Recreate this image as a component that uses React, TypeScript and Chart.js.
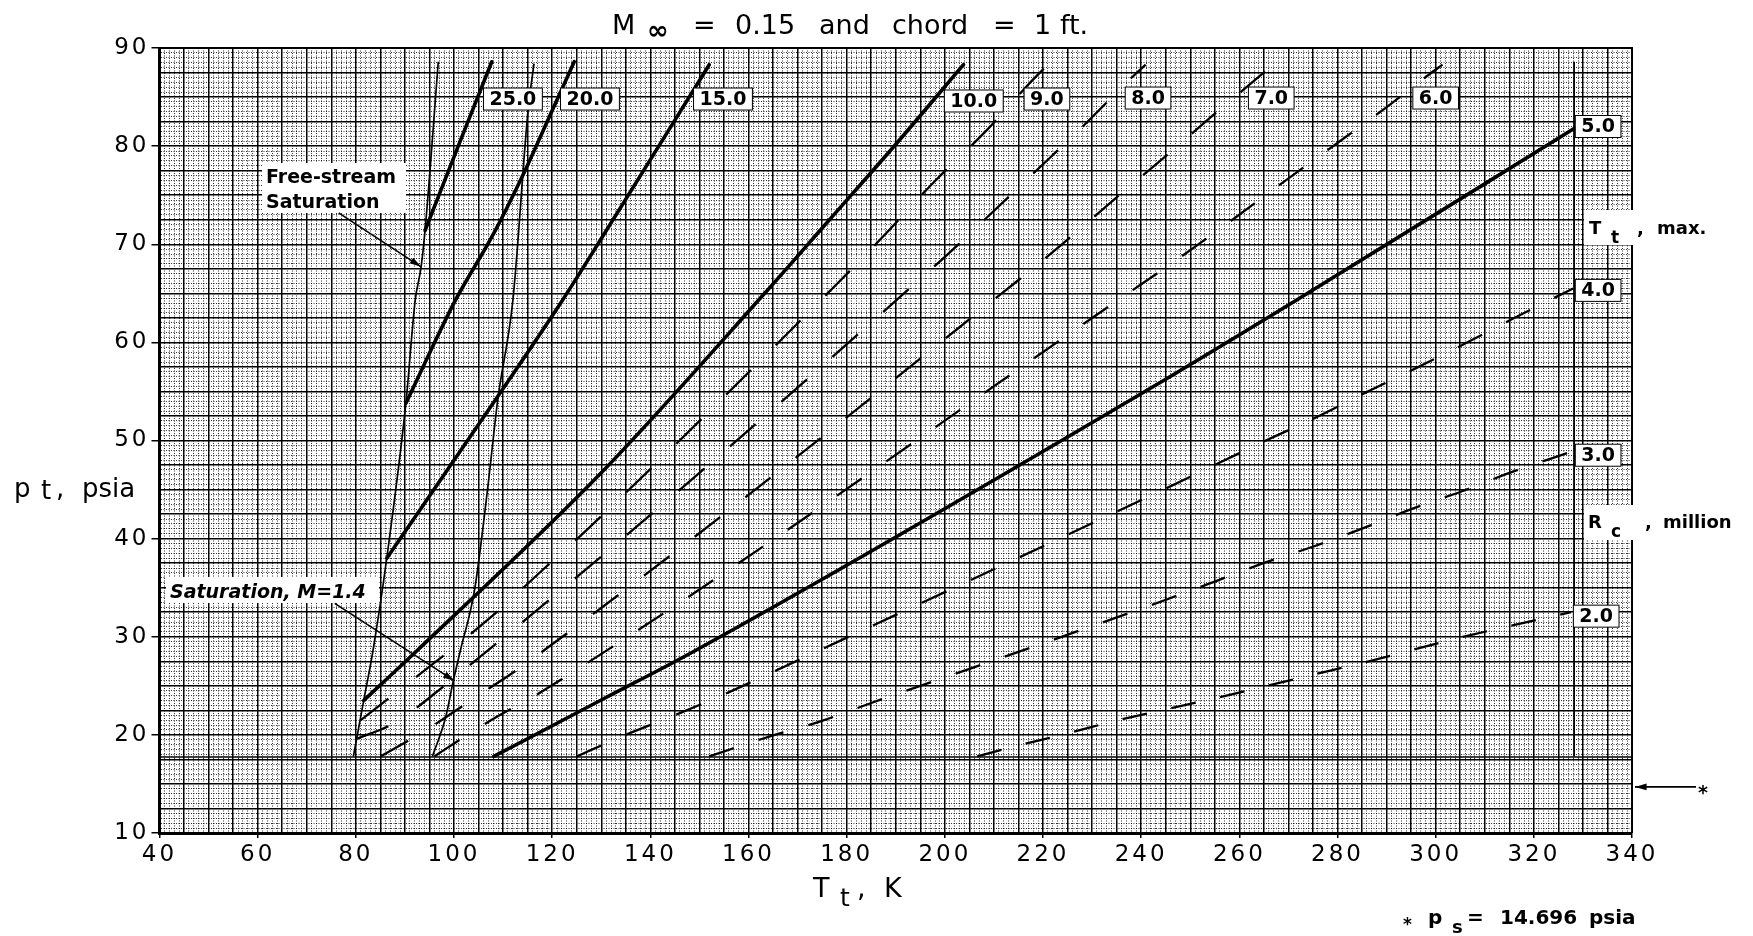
import React, { useEffect, useRef } from 'react';
import { Chart, registerables } from 'chart.js';

Chart.register(...registerables);

// ---------------- axis ranges and tick labels ----------------
const T_RANGE = [40, 340];
const P_RANGE = [10, 90];
const X_LABEL_STEP = 20;
const Y_LABEL_STEP = 10;

// ---------------- Rc curves (solid) : Tt in K, pt in psia ----------------
const rc25T = [94.1, 101.1, 107.7];
const rc25P = [71.4, 80.3, 88.6];

const rc20T = [90.2, 100.3, 108.1, 113.9, 119.8, 124.5];
const rc20P = [53.8, 64.3, 71.1, 76.9, 83.4, 88.6];

const rc15T = [86.3, 109.6, 122.1, 129.8, 152.0];
const rc15P = [38.0, 55.0, 64.3, 70.4, 88.3];

const rc10T = [81.6, 92.5, 129.8, 163.3, 176.5, 189.0, 203.8];
const rc10P = [23.5, 28.6, 46.6, 65.0, 72.5, 79.6, 88.3];

const rc5T = [108.1, 129.8, 149.2, 241.8, 271.6, 328.2];
const rc5P = [17.8, 23.5, 28.6, 55.3, 64.3, 81.8];

// ---------------- Rc curves (dashed) ----------------
const rc9T = [81.0, 107.5, 117.6, 127.5, 177.5, 188.0, 197.7, 208.3, 218.0, 220.6];
const rc9P = [21.5, 32.0, 36.6, 41.1, 65.7, 71.1, 76.3, 81.5, 86.8, 88.1];

const rc8T = [80.2, 88.0, 97.5, 198.2, 208.3, 218.0, 228.4, 238.3, 240.9];
const rc8P = [19.6, 21.25, 24.8, 67.9, 72.6, 77.2, 82.15, 87.1, 88.3];

const rc7T = [85.0, 94.2, 104.3, 114.3, 214.0, 224.1, 234.0, 244.1, 254.3, 264.3, 266.9];
const rc7P = [17.8, 20.45, 23.8, 27.15, 65.95, 70.1, 74.35, 78.6, 83.0, 87.2, 88.3];

const rc6T = [96.0, 98.7, 107.7, 118.0, 238.2, 248.2, 258.2, 268.2, 278.4, 288.6, 298.8, 301.4];
const rc6P = [17.8, 18.7, 21.55, 24.45, 65.3, 68.75, 72.35, 76.05, 79.75, 83.45, 87.35, 88.3];

const rc4T = [125.0, 127.0, 135.0, 145.0, 154.9, 164.9, 245.2, 255.4, 265.2, 275.4, 285.4, 295.7, 305.7, 315.7, 328.0];
const rc4P = [17.8, 18.25, 20.0, 22.0, 24.1, 26.4, 45.15, 47.6, 49.95, 52.3, 54.8, 57.3, 59.8, 62.4, 65.5];

const rc3T = [152.0, 164.7, 174.8, 185.0, 195.0, 205.2, 245.2, 255.4, 265.2, 275.4, 285.4, 295.3, 305.5, 315.3, 327.6];
const rc3P = [17.8, 19.9, 21.4, 23.25, 25.0, 26.75, 33.8, 35.7, 37.55, 39.25, 41.1, 43.05, 44.85, 46.75, 48.85];

const rc2T = [206.6, 215.2, 225.0, 234.9, 245.0, 255.2, 265.2, 275.2, 285.2, 305.3, 315.2, 327.6];
const rc2P = [17.8, 18.95, 20.15, 21.45, 22.6, 23.75, 24.95, 26.15, 27.35, 29.95, 31.1, 32.5];

// ---------------- saturation boundaries ----------------
const freeStreamT = [79.5, 81.6, 83.5, 86.3, 90.2, 92.1, 93.3, 94.1, 96.8];
const freeStreamP = [17.8, 23.5, 28.6, 38.0, 53.8, 64.3, 67.7, 71.4, 88.6];

const satM14T = [95.6, 98.3, 99.9, 101.3, 104.2, 106.9, 108.9, 112.0, 115.1, 116.3];
const satM14P = [17.8, 21.8, 25.6, 28.6, 34.8, 45.3, 54.1, 64.3, 83.7, 88.4];

// ---------------- limit lines ----------------
const minPressureT = [40, 340];
const minPressureP = [17.75, 17.75];
const tMaxT = [328.2, 328.2];
const tMaxP = [17.8, 88.6];

const PS = 14.696;

// labels of the curves: [text, T, p]
const curveLabels: [string, number, number][] = [
  ['25.0', 112.0, 84.8],
  ['20.0', 127.7, 84.8],
  ['15.0', 154.8, 84.8],
  ['10.0', 205.9, 84.6],
  ['9.0', 220.8, 84.8],
  ['8.0', 241.4, 84.9],
  ['7.0', 266.5, 84.9],
  ['6.0', 300.0, 84.9],
  ['5.0', 333.1, 82.0],
  ['4.0', 333.1, 65.3],
  ['3.0', 333.1, 48.5],
  ['2.0', 332.7, 32.1],
];

const pts = (xs: number[], ys: number[]) => xs.map((x, i) => ({ x, y: ys[i] }));

const FONT = '"DejaVu Sans", "Liberation Sans", sans-serif';

function solid(data: { x: number; y: number }[]) {
  return {
    data,
    borderColor: '#000',
    borderWidth: 3.6,
    showLine: true,
    pointRadius: 0,
    cubicInterpolationMode: 'monotone' as const,
    borderCapStyle: 'round' as const,
  };
}
function dashed(data: { x: number; y: number }[], dash: number) {
  return {
    data,
    borderColor: '#000',
    borderWidth: 2.3,
    borderDash: [dash, dash],
    showLine: true,
    pointRadius: 0,
    cubicInterpolationMode: 'monotone' as const,
  };
}
function thin(data: { x: number; y: number }[], w = 1.7) {
  return {
    data,
    borderColor: '#000',
    borderWidth: w,
    showLine: true,
    pointRadius: 0,
    cubicInterpolationMode: 'monotone' as const,
  };
}

function isMult(v: number, s: number) {
  const r = v / s;
  return Math.abs(r - Math.round(r)) < 1e-6;
}

function drawArrow(ctx: CanvasRenderingContext2D, x1: number, y1: number, x2: number, y2: number, head = 12, w = 1.6) {
  ctx.save();
  ctx.strokeStyle = '#000';
  ctx.fillStyle = '#000';
  ctx.lineWidth = w;
  ctx.setLineDash([]);
  ctx.beginPath();
  ctx.moveTo(x1, y1);
  ctx.lineTo(x2, y2);
  ctx.stroke();
  const a = Math.atan2(y2 - y1, x2 - x1);
  ctx.beginPath();
  ctx.moveTo(x2, y2);
  ctx.lineTo(x2 - head * Math.cos(a - 0.28), y2 - head * Math.sin(a - 0.28));
  ctx.lineTo(x2 - head * Math.cos(a + 0.28), y2 - head * Math.sin(a + 0.28));
  ctx.closePath();
  ctx.fill();
  ctx.restore();
}

function text(ctx: CanvasRenderingContext2D, s: string, x: number, y: number, font: string, align: CanvasTextAlign = 'left') {
  ctx.font = font;
  ctx.textAlign = align;
  ctx.textBaseline = 'alphabetic';
  ctx.fillText(s, x, y);
}

const TICK_SPACING = '3px';

const decorPlugin = {
  id: 'decor',
  beforeLayout(chart: any) {
    chart.ctx.letterSpacing = TICK_SPACING;
  },
  beforeDraw(chart: any) {
    chart.ctx.letterSpacing = TICK_SPACING;
  },
  beforeDatasetsDraw(chart: any) {
    const { ctx, chartArea: a } = chart;
    ctx.save();
    ctx.strokeStyle = '#000';
    ctx.lineWidth = 2;
    ctx.beginPath();
    ctx.moveTo(a.left, a.top);
    ctx.lineTo(a.right, a.top);
    ctx.lineTo(a.right, a.bottom);
    ctx.stroke();
    ctx.restore();
  },
  afterDatasetsDraw(chart: any) {
    const ctx: CanvasRenderingContext2D = chart.ctx;
    const xs = chart.scales.x;
    const ys = chart.scales.y;
    const X = (v: number) => xs.getPixelForValue(v);
    const Y = (v: number) => ys.getPixelForValue(v);
    const a = chart.chartArea;
    ctx.save();
    (ctx as any).letterSpacing = '0px';
    ctx.fillStyle = '#000';

    // curve value labels in boxes
    const bf = `bold 19px ${FONT}`;
    ctx.font = bf;
    for (const [s, t, p] of curveLabels) {
      const cx = X(t);
      const cy = Y(p);
      const w = ctx.measureText(s).width + 12;
      const h = 22;
      ctx.fillStyle = '#fff';
      ctx.fillRect(cx - w / 2, cy - h / 2, w, h);
      ctx.strokeStyle = '#000';
      ctx.lineWidth = 1;
      ctx.strokeRect(cx - w / 2, cy - h / 2, w, h);
      ctx.fillStyle = '#000';
      ctx.textAlign = 'center';
      ctx.textBaseline = 'middle';
      ctx.fillText(s, cx, cy + 1);
    }

    // Free-stream saturation note
    ctx.fillStyle = '#fff';
    ctx.fillRect(262, 163, 144, 50);
    ctx.fillStyle = '#000';
    text(ctx, 'Free-stream', 266, 183, `bold 19px ${FONT}`);
    text(ctx, 'Saturation', 266, 208, `bold 19px ${FONT}`);
    drawArrow(ctx, X(76.5), Y(73.2), X(93.3), Y(67.7));

    // Saturation M=1.4 note
    ctx.fillStyle = '#fff';
    ctx.fillRect(166, 577, 213, 26);
    ctx.fillStyle = '#000';
    text(ctx, 'Saturation, M=1.4', 170, 598, `italic bold 19px ${FONT}`);
    drawArrow(ctx, X(75.7), Y(33.4), X(100.1), Y(25.5));

    // Tt, max. label
    ctx.fillStyle = '#fff';
    ctx.fillRect(1584, 210, a.right + 2 - 1584, 35);
    ctx.fillRect(1584, 505, a.right + 2 - 1584, 35);
    ctx.fillStyle = '#000';
    text(ctx, 'T', 1589, 234, `bold 18px ${FONT}`);
    text(ctx, 't', 1611, 243, `bold 17px ${FONT}`);
    text(ctx, ',', 1637, 234, `bold 18px ${FONT}`);
    text(ctx, 'max.', 1657, 234, `bold 18px ${FONT}`);
    // Rc, million label
    text(ctx, 'R', 1588, 528, `bold 18px ${FONT}`);
    text(ctx, 'c', 1611, 537, `bold 17px ${FONT}`);
    text(ctx, ',', 1645, 528, `bold 18px ${FONT}`);
    text(ctx, 'million', 1663, 528, `bold 18px ${FONT}`);

    // ps arrow at right edge
    drawArrow(ctx, a.right + 64, Y(PS), a.right + 3, Y(PS), 12, 1.6);
    text(ctx, '*', a.right + 66, Y(PS) + 12, `bold 19px ${FONT}`);

    ctx.restore();
  },
  afterDraw(chart: any) {
    const ctx: CanvasRenderingContext2D = chart.ctx;
    ctx.save();
    (ctx as any).letterSpacing = '0px';
    ctx.fillStyle = '#000';
    // title
    const tf = `27px ${FONT}`;
    text(ctx, 'M', 612, 34, tf);
    text(ctx, '\u221E', 647, 39, `bold 26px ${FONT}`);
    text(ctx, '=', 693, 34, tf);
    text(ctx, '0.15', 735, 34, tf);
    text(ctx, 'and', 819, 34, tf);
    text(ctx, 'chord', 892, 34, tf);
    text(ctx, '=', 993, 34, tf);
    text(ctx, '1', 1034, 34, tf);
    text(ctx, 'ft.', 1060, 34, tf);

    // y axis title
    const yf = `26px ${FONT}`;
    text(ctx, 'p', 14, 497, yf);
    text(ctx, 't', 41, 499, yf);
    text(ctx, ',', 56, 497, yf);
    text(ctx, 'psia', 82, 497, yf);

    // x axis title
    text(ctx, 'T', 813, 897, `27px ${FONT}`);
    text(ctx, 't', 840, 906, `25px ${FONT}`);
    text(ctx, ',', 857, 897, `27px ${FONT}`);
    text(ctx, 'K', 884, 897, `27px ${FONT}`);

    // footnote
    text(ctx, '*', 1403, 930, `bold 17px ${FONT}`);
    text(ctx, 'p', 1428, 924, `bold 20px ${FONT}`);
    text(ctx, 's', 1452, 933, `bold 18px ${FONT}`);
    text(ctx, '=', 1467, 924, `bold 20px ${FONT}`);
    text(ctx, '14.696', 1500, 924, `bold 20px ${FONT}`);
    text(ctx, 'psia', 1589, 924, `bold 20px ${FONT}`);
    ctx.restore();
  },
};

const MINOR = 'rgba(0,0,0,0.8)';
const MINOR_DASH = [1, 1.5];

export default function App() {
  const ref = useRef<HTMLCanvasElement>(null);

  useEffect(() => {
    const canvas = ref.current;
    if (!canvas) return;
    const W = 1753;
    const H = 936;
    const plotLeft = 159.5;
    const plotRight = 1632;
    const plotTop = 48;
    const plotBottom = 833;
    const yW = 60;
    const xH = 40;

    const chart = new Chart(canvas, {
      type: 'scatter',
      data: {
        datasets: [
          thin(pts(minPressureT, minPressureP), 1.6),
          thin(pts(tMaxT, tMaxP), 1.8),
          thin(pts(freeStreamT, freeStreamP), 1.7),
          thin(pts(satM14T, satM14P), 1.7),
          dashed(pts(rc9T, rc9P), 35),
          dashed(pts(rc8T, rc8P), 34),
          dashed(pts(rc7T, rc7P), 32),
          dashed(pts(rc6T, rc6P), 30),
          dashed(pts(rc4T, rc4P), 27),
          dashed(pts(rc3T, rc3P), 26),
          dashed(pts(rc2T, rc2P), 25),
          solid(pts(rc25T, rc25P)),
          solid(pts(rc20T, rc20P)),
          solid(pts(rc15T, rc15P)),
          solid(pts(rc10T, rc10P)),
          solid(pts(rc5T, rc5P)),
        ] as any,
      },
      options: {
        responsive: false,
        animation: false,
        devicePixelRatio: 1,
        events: [],
        layout: {
          padding: {
            left: plotLeft - yW,
            right: W - plotRight,
            top: plotTop,
            bottom: H - plotBottom - xH,
          },
        },
        plugins: {
          legend: { display: false },
          title: { display: false },
          tooltip: { enabled: false },
        },
        scales: {
          x: {
            type: 'linear',
            min: T_RANGE[0],
            max: T_RANGE[1],
            afterFit: (s: any) => {
              s.height = xH;
            },
            ticks: {
              stepSize: 1,
              autoSkip: false,
              maxRotation: 0,
              minRotation: 0,
              padding: 3,
              color: '#000',
              font: { family: 'DejaVu Sans', size: 23 },
              callback: (v: any) => (isMult(Number(v), X_LABEL_STEP) ? String(v) : ''),
            },
            grid: {
              color: (c: any) => (isMult(c.tick.value, 5) ? '#000' : MINOR),
              lineWidth: (c: any) => (isMult(c.tick.value, 5) ? 1.5 : 1),
              tickLength: 5,
              tickWidth: (c: any) => (c.tick && isMult(c.tick.value, X_LABEL_STEP) ? 1.5 : 0),
              tickColor: '#000',
            },
            border: {
              display: true,
              color: '#000',
              width: 3,
              dash: (c: any) => (c.tick && !isMult(c.tick.value, 5) ? MINOR_DASH : []),
            },
          },
          y: {
            type: 'linear',
            min: P_RANGE[0],
            max: P_RANGE[1],
            afterFit: (s: any) => {
              s.width = yW;
            },
            ticks: {
              stepSize: 0.5,
              autoSkip: false,
              padding: 2,
              color: '#000',
              font: { family: 'DejaVu Sans', size: 23 },
              callback: (v: any) => (isMult(Number(v), Y_LABEL_STEP) ? String(v) : ''),
            },
            grid: {
              color: (c: any) => (isMult(c.tick.value, 2.5) ? '#000' : MINOR),
              lineWidth: (c: any) => (isMult(c.tick.value, 2.5) ? 1.5 : 1),
              tickLength: 8,
              tickWidth: (c: any) => (c.tick && isMult(c.tick.value, Y_LABEL_STEP) ? 1.5 : 0),
              tickColor: '#000',
            },
            border: {
              display: true,
              color: '#000',
              width: 3,
              dash: (c: any) => (c.tick && !isMult(c.tick.value, 2.5) ? MINOR_DASH : []),
            },
          },
        },
      } as any,
      plugins: [decorPlugin as any],
    });
    return () => chart.destroy();
  }, []);

  return (
    <div style={{ position: 'fixed', left: 0, top: 0, width: 1753, height: 936, background: '#fff' }}>
      <canvas ref={ref} width={1753} height={936} style={{ display: 'block', width: 1753, height: 936 }} />
    </div>
  );
}
